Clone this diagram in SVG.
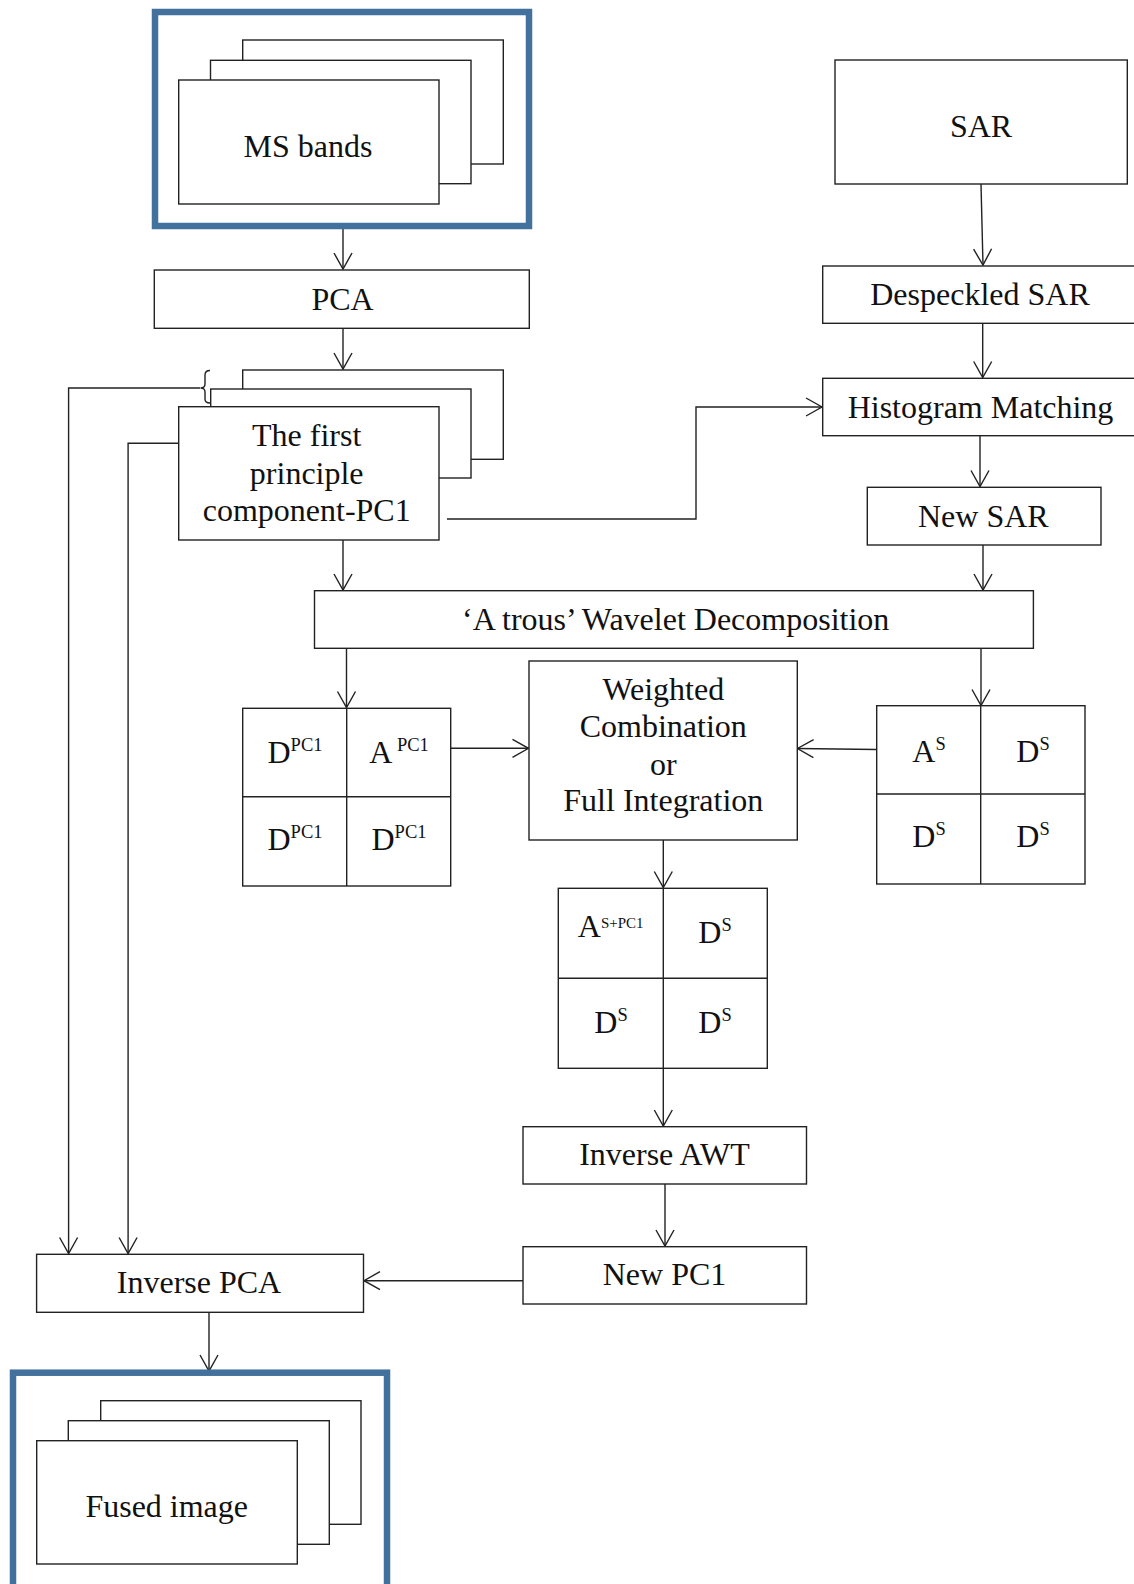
<svg xmlns="http://www.w3.org/2000/svg" width="1134" height="1584" viewBox="0 0 1134 1584">
<style>
.box{fill:#fff;stroke:#222;stroke-width:1.4}
.blue{fill:#fff;stroke:#41719C;stroke-width:6.5}
.t{font-family:"Liberation Serif","Times New Roman",serif;font-size:32px;fill:#111;text-anchor:middle}
.c{fill:none;stroke:#222;stroke-width:1.4}
.sup{font-size:18.5px}
</style>
<defs>
<marker id="ah" markerUnits="userSpaceOnUse" markerWidth="20" markerHeight="22" viewBox="-18 -11 20 22" refX="0" refY="0" orient="auto">
<path d="M-16,-9 L0,0 L-16,9" fill="none" stroke="#222" stroke-width="1.4"/>
</marker>
</defs>
<rect width="1134" height="1584" fill="#fff"/>

<g id="connectors">
<path class="c" d="M343,229 L343,269" marker-end="url(#ah)"/>
<path class="c" d="M343,328 L343,369" marker-end="url(#ah)"/>
<path class="c" d="M343,540 L343,590" marker-end="url(#ah)"/>
<path class="c" d="M981,184 L983,265" marker-end="url(#ah)"/>
<path class="c" d="M982.7,323.5 L982.7,377.5" marker-end="url(#ah)"/>
<path class="c" d="M980,436 L980,486.5" marker-end="url(#ah)"/>
<path class="c" d="M983,545 L983,590" marker-end="url(#ah)"/>
<path class="c" d="M447,519 L696,519 L696,407 L822,407" marker-end="url(#ah)"/>
<path class="c" d="M346.5,648.5 L346.5,707.5" marker-end="url(#ah)"/>
<path class="c" d="M981,648.5 L981,705.5" marker-end="url(#ah)"/>
<path class="c" d="M451,748.3 L528.5,748.3" marker-end="url(#ah)"/>
<path class="c" d="M877,749.5 L797.5,748.5" marker-end="url(#ah)"/>
<path class="c" d="M663.3,840 L663.3,887.5" marker-end="url(#ah)"/>
<path class="c" d="M663.3,1068 L663.3,1126" marker-end="url(#ah)"/>
<path class="c" d="M665,1184 L665,1246" marker-end="url(#ah)"/>
<path class="c" d="M523,1280.7 L364,1280.7" marker-end="url(#ah)"/>
<path class="c" d="M209,1312.3 L209,1371" marker-end="url(#ah)"/>
<path class="c" d="M200,388 L68.6,388 L68.6,1253.5" marker-end="url(#ah)"/>
<path class="c" d="M178.7,443.3 L128.1,443.3 L128.1,1253.5" marker-end="url(#ah)"/>
<path class="c" d="M210,370.5 Q205,370.5 205,375 L205,384 Q205,388 200.5,388 Q205,388 205,392 L205,399 Q205,403 210,403"/>
</g>

<g id="ms-bands">
<rect class="blue" x="155" y="12" width="374" height="214"/>
<rect class="box" x="242.7" y="40" width="260.6" height="124"/>
<rect class="box" x="210.5" y="60.3" width="260.5" height="123.4"/>
<rect class="box" x="178.7" y="80" width="260.3" height="124"/>
<text class="t" x="308" y="157">MS bands</text>
</g>

<g id="sar">
<rect class="box" x="835" y="60" width="292.3" height="124"/>
<text class="t" x="981" y="136.7">SAR</text>
</g>

<g id="pca">
<rect class="box" x="154.3" y="270" width="375" height="58.3"/>
<text class="t" x="342.5" y="310">PCA</text>
</g>

<g id="despeckled">
<rect class="box" x="822.7" y="266" width="315" height="57.3"/>
<text class="t" x="980" y="305">Despeckled SAR</text>
</g>

<g id="histogram">
<rect class="box" x="822.7" y="378.3" width="315" height="57.4"/>
<text class="t" x="980.5" y="418">Histogram Matching</text>
</g>

<g id="pc1">
<rect class="box" x="242.7" y="370" width="260.6" height="89.3"/>
<rect class="box" x="210.7" y="389" width="260.3" height="89"/>
<rect class="box" x="178.7" y="406.7" width="260.3" height="133.3"/>
<text class="t" x="306.7" y="446">The first</text>
<text class="t" x="306.7" y="484">principle</text>
<text class="t" x="306.7" y="521">component-PC1</text>
</g>

<g id="new-sar">
<rect class="box" x="867.3" y="487.3" width="233.7" height="57.7"/>
<text class="t" x="983.3" y="526.7">New SAR</text>
</g>

<g id="wavelet">
<rect class="box" x="314.5" y="590.7" width="718.9" height="57.6"/>
<text class="t" x="675.7" y="630">‘A trous’ Wavelet Decomposition</text>
</g>

<g id="pc1-grid">
<rect class="box" x="242.7" y="708.3" width="208" height="177.7"/>
<path class="c" d="M346.7,708.3 L346.7,886 M242.7,796.7 L450.7,796.7"/>
<text class="t" x="295" y="763" font-size="33">D<tspan class="sup" dy="-12">PC1</tspan></text>
<text class="t" x="399" y="763" font-size="33">A<tspan class="sup" dy="-12"> PC1</tspan></text>
<text class="t" x="295" y="850" font-size="33">D<tspan class="sup" dy="-12">PC1</tspan></text>
<text class="t" x="399" y="850" font-size="33">D<tspan class="sup" dy="-12">PC1</tspan></text>
</g>

<g id="weighted">
<rect class="box" x="529" y="661" width="268.3" height="179"/>
<text class="t" x="663.3" y="700">Weighted</text>
<text class="t" x="663.3" y="737.3">Combination</text>
<text class="t" x="663.3" y="775">or</text>
<text class="t" x="663.3" y="810.7">Full Integration</text>
</g>

<g id="sar-grid">
<rect class="box" x="876.7" y="705.7" width="208.3" height="178.3"/>
<path class="c" d="M980.7,705.7 L980.7,884 M876.7,794 L1085,794"/>
<text class="t" x="929" y="761.7" font-size="33">A<tspan class="sup" dy="-12">S</tspan></text>
<text class="t" x="1033" y="761.7" font-size="33">D<tspan class="sup" dy="-12">S</tspan></text>
<text class="t" x="929" y="847" font-size="33">D<tspan class="sup" dy="-12">S</tspan></text>
<text class="t" x="1033" y="847" font-size="33">D<tspan class="sup" dy="-12">S</tspan></text>
</g>

<g id="fused-grid">
<rect class="box" x="558.3" y="888.3" width="209" height="180"/>
<path class="c" d="M663.3,888.3 L663.3,1068.3 M558.3,978.3 L767.3,978.3"/>
<text class="t" x="610.7" y="937" font-size="25">A<tspan font-size="15" dy="-9">S+PC1</tspan></text>
<text class="t" x="715" y="943.3" font-size="33">D<tspan class="sup" dy="-12">S</tspan></text>
<text class="t" x="611" y="1033.3" font-size="33">D<tspan class="sup" dy="-12">S</tspan></text>
<text class="t" x="715" y="1033.3" font-size="33">D<tspan class="sup" dy="-12">S</tspan></text>
</g>

<g id="inverse-awt">
<rect class="box" x="523" y="1126.7" width="283.5" height="57.3"/>
<text class="t" x="664.5" y="1165">Inverse AWT</text>
</g>

<g id="new-pc1">
<rect class="box" x="523" y="1246.7" width="283.5" height="57.3"/>
<text class="t" x="664.5" y="1285">New PC1</text>
</g>

<g id="inverse-pca">
<rect class="box" x="36.6" y="1254.3" width="326.9" height="58"/>
<text class="t" x="199" y="1292.7">Inverse PCA</text>
</g>

<g id="fused-image">
<rect class="blue" x="13" y="1372.7" width="374" height="230"/>
<rect class="box" x="100.7" y="1400.7" width="260.3" height="123.6"/>
<rect class="box" x="68.3" y="1420.7" width="261" height="123.6"/>
<rect class="box" x="36.7" y="1440.7" width="260.6" height="123.3"/>
<text class="t" x="166.7" y="1516.7">Fused image</text>
</g>
</svg>
